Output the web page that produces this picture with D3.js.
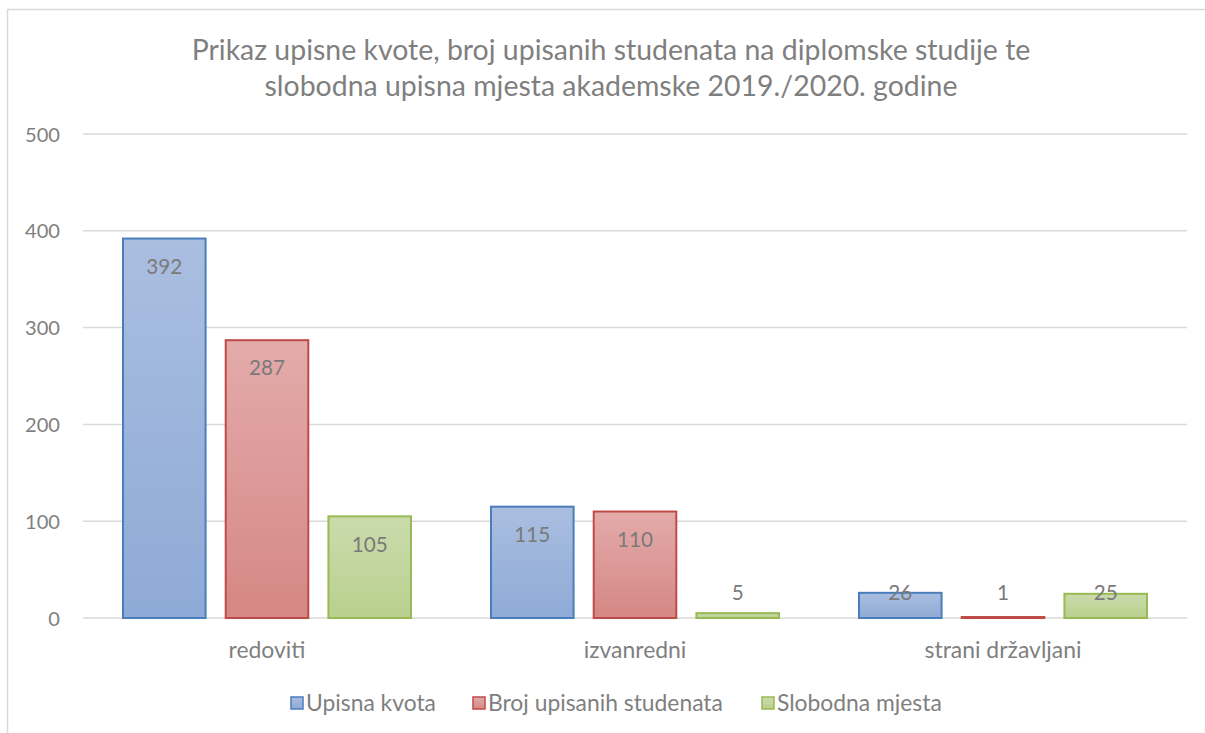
<!DOCTYPE html>
<html><head><meta charset="utf-8">
<script src="https://cdn.jsdelivr.net/npm/d3@7"></script>
<style>body{margin:0;background:#fff;} svg{display:block;font-family:"Lato","Open Sans",sans-serif;}</style>
</head><body>
<svg id="c" width="1205" height="733"></svg>
<script>
const categories = ["redoviti", "izvanredni", "strani državljani"];
const seriesNames = ["Upisna kvota", "Broj upisanih studenata", "Slobodna mjesta"];
const upisnaKvota = [392, 115, 26];
const brojUpisanih = [287, 110, 1];
const slobodnaMjesta = [105, 5, 25];
const yTicks = [0, 100, 200, 300, 400, 500];
const titleLines = ["Prikaz upisne kvote, broj upisanih studenata na diplomske studije te", "slobodna upisna mjesta akademske 2019./2020. godine"];

const seriesValues = [upisnaKvota, brojUpisanih, slobodnaMjesta];
const colors = [
  {stroke:"#4a7ebb", top:"#aabee0", bot:"#8eaad6"},
  {stroke:"#be4b48", top:"#e3abaa", bot:"#d58785"},
  {stroke:"#98b954", top:"#cbdbad", bot:"#b9d08e"}
];
const svg = d3.select("#c");
const defs = svg.append("defs");
colors.forEach((c,i)=>{
  const g = defs.append("linearGradient").attr("id","g"+i).attr("x1",0).attr("y1",0).attr("x2",0).attr("y2",1);
  g.append("stop").attr("offset","0%").attr("stop-color",c.top);
  g.append("stop").attr("offset","100%").attr("stop-color",c.bot);
});

// measure helper: font size giving a target width for a sample string
function sizeFor(sample, targetW){
  const t = svg.append("text").attr("font-size",20).text(sample);
  const w = t.node().getComputedTextLength();
  t.remove();
  return 20*targetW/w;
}
const fsTitle = sizeFor(titleLines[0], 839);
const fsTick = sizeFor("500", 35);
const fsLabel = sizeFor("392", 36);
const fsCat = sizeFor("redoviti", 77);
const fsLeg = sizeFor("Upisna kvota", 130);

// frame
svg.append("path").attr("d","M7.5,733 V9.5 H1205").attr("fill","none").attr("stroke","#d9d9d9").attr("stroke-width",1.5);

const pLeft = 83, pRight = 1187, pTop = 134, pBottom = 618;
const x0 = d3.scaleBand().domain(categories).range([pLeft,pRight]).paddingInner(0).paddingOuter(0);
const x1 = d3.scaleBand().domain(d3.range(3)).range([40, x0.bandwidth()-40]).paddingInner(0.196);
const y = d3.scaleLinear().domain([0,500]).range([pBottom, pTop]);

// gridlines
svg.append("g").selectAll("line").data(yTicks).join("line")
  .attr("x1",pLeft).attr("x2",pRight).attr("y1",d=>y(d)).attr("y2",d=>y(d))
  .attr("stroke","#d9d9d9").attr("stroke-width",1.5);

// y axis labels
const yAxis = d3.axisLeft(y).tickValues(yTicks).tickSize(0).tickPadding(0);
const ya = svg.append("g").attr("transform",`translate(${pLeft-23},0)`).call(yAxis);
ya.select(".domain").remove();
ya.selectAll("text").attr("fill","#7f7f7f").attr("font-size",fsTick).attr("font-family","Lato").attr("dy","0.35em");

// bars
const groups = svg.append("g").selectAll("g").data(categories).join("g")
  .attr("transform",d=>`translate(${x0(d)},0)`);
groups.each(function(cat, ci){
  const g = d3.select(this);
  seriesValues.forEach((vals, si)=>{
    const v = vals[ci];
    g.append("rect")
      .attr("x", x1(si)).attr("width", x1.bandwidth())
      .attr("y", y(v)).attr("height", Math.max(y(0)-y(v), 0.5))
      .attr("fill", `url(#g${si})`).attr("stroke", colors[si].stroke).attr("stroke-width",2);
    const ly = Math.min(y(v)+28, y(0)-25);
    g.append("text").attr("x", x1(si)+x1.bandwidth()/2).attr("y", ly)
      .attr("dy","0.35em").attr("text-anchor","middle").attr("fill","#7a7a7a").attr("font-size",fsLabel).text(v);
  });
});

// x axis labels
const xa = svg.append("g").attr("transform",`translate(0,${pBottom})`).call(d3.axisBottom(x0).tickSize(0).tickPadding(0));
xa.select(".domain").remove();
xa.selectAll("text").attr("fill","#7f7f7f").attr("font-size",fsCat).attr("font-family","Lato").attr("dy","0.35em").attr("y",32);

// title
const tt = svg.append("text").attr("text-anchor","middle").attr("fill","#7f7f7f").attr("font-size",fsTitle);
titleLines.forEach((l,i)=> tt.append("tspan").attr("x",611).attr("y",[50,86][i]).attr("dy","0.35em").text(l));

// legend
const legendX = [291, 473, 762];
const lg = svg.append("g").selectAll("g").data(seriesNames).join("g")
  .attr("transform",(d,i)=>`translate(${legendX[i]},703)`);
lg.append("rect").attr("x",0).attr("y",-6).attr("width",12).attr("height",12)
  .attr("fill",(d,i)=>`url(#g${i})`).attr("stroke",(d,i)=>colors[i].stroke).attr("stroke-width",1.5);
lg.append("text").attr("x",15).attr("y",0).attr("dy","0.35em").attr("fill","#7f7f7f").attr("font-size",fsLeg).text(d=>d);
</script>
</body></html>
